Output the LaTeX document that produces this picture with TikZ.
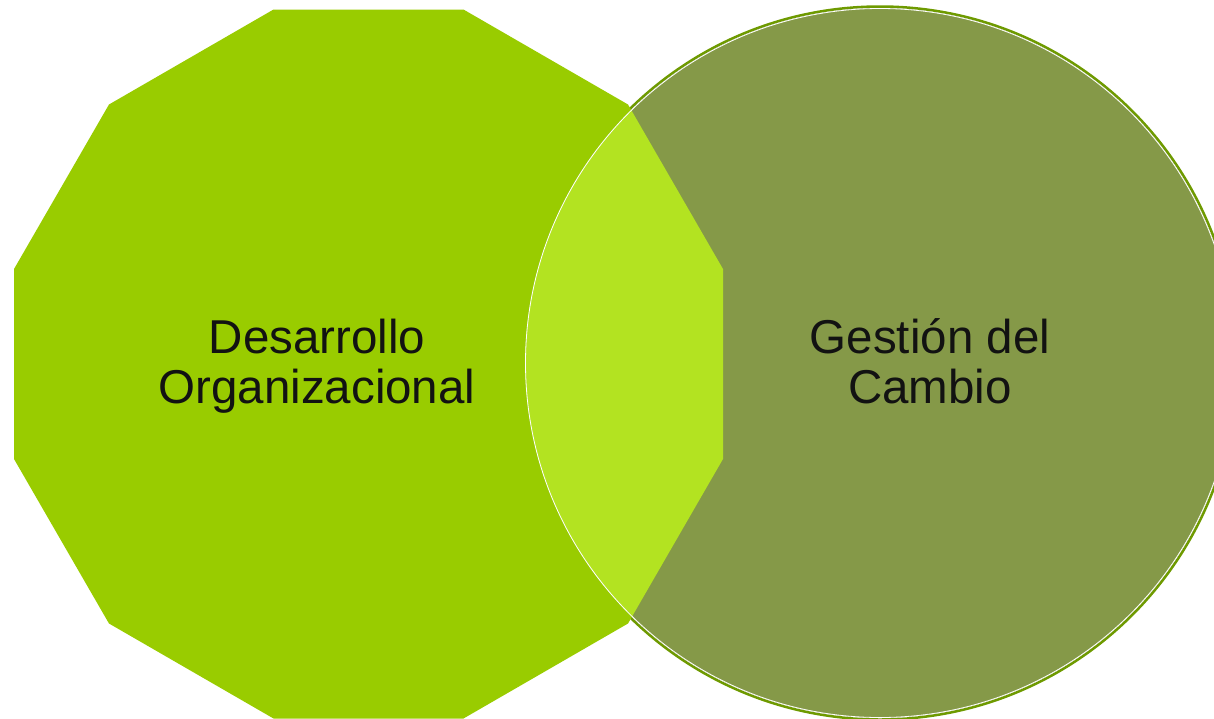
\documentclass[tikz,border=0pt]{standalone}
\usepackage{fontspec}
\setmainfont{Liberation Sans}
\usetikzlibrary{positioning}

\definecolor{odgreen}{HTML}{99CC00}
\definecolor{gcolive}{HTML}{859948}
\definecolor{overlapgreen}{HTML}{B3E321}
\definecolor{rimgreen}{HTML}{6E9A00}

\begin{document}
\begin{tikzpicture}[x=1pt, y=-1pt,
    vennlabel/.style={align=center, font=\fontsize{47.5}{49.5}\selectfont, text=black!93, inner sep=0pt},
  ]
  \useasboundingbox (0,0) rectangle (1214,718);
  \coordinate (odc) at (368.5,364);
  \coordinate (gcc) at (880,363);

  \draw[rimgreen, line width=2.5pt] (gcc) circle (356.5);
  \fill[odgreen, shift={(odc)}] (15:367) \foreach \a in {45,75,...,345} { -- (\a:367) } -- cycle;
  \fill[gcolive] (gcc) circle (355);
  \begin{scope}
    \clip[shift={(odc)}] (15:367) \foreach \a in {45,75,...,345} { -- (\a:367) } -- cycle;
    \fill[overlapgreen] (gcc) circle (355);
  \end{scope}
  \draw[white, line width=0.8pt] (gcc) circle (354.5);

  \node[vennlabel] (odtext) at (317,366) {Desarrollo\\Organizacional};
  \node[vennlabel] (gctext) at (930,361) {Gestión del\\Cambio};
\end{tikzpicture}
\end{document}
